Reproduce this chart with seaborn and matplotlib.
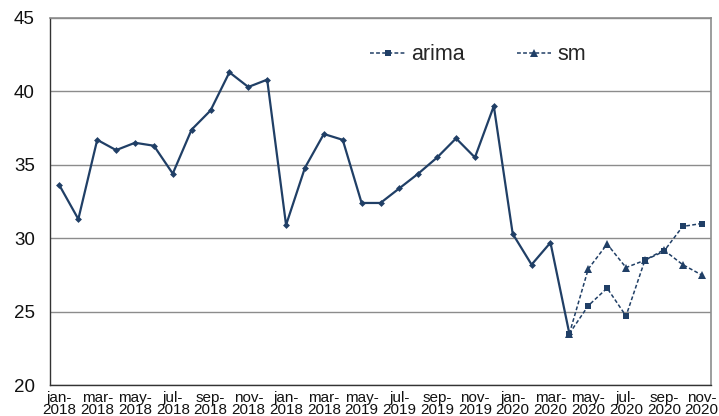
import matplotlib
matplotlib.use("Agg")
import matplotlib.pyplot as plt
import seaborn as sns
import pandas as pd
import numpy as np

# ---- data ----
actual = [33.6, 31.3, 36.7, 36.0, 36.5, 36.3, 34.4, 37.4, 38.7, 41.3, 40.3, 40.8,
          30.9, 34.8, 37.1, 36.7, 32.4, 32.4, 33.4, 34.4, 35.5, 36.8, 35.5, 39.0,
          30.3, 28.2, 29.7, 23.5]
arima = [23.5, 25.4, 26.6, 24.7, 28.5, 29.1, 30.8, 31.0]
sm = [23.5, 27.9, 29.6, 28.0, 28.5, 29.2, 28.2, 27.5]
tick_labels = ["jan-\n2018", "mar-\n2018", "may-\n2018", "jul-\n2018", "sep-\n2018",
               "nov-\n2018", "jan-\n2018", "mar-\n2018", "may-\n2019", "jul-\n2019",
               "sep-\n2019", "nov-\n2019", "jan-\n2020", "mar-\n2020", "may-\n2020",
               "jul-\n2020", "sep-\n2020", "nov-\n2020"]
n_months = 35

sns.set_style("white")
plt.rcParams['font.family'] = ['Liberation Sans', 'DejaVu Sans']

color = "#203F66"

fig = plt.figure(figsize=(7.19, 4.16), dpi=100)
ax = fig.add_axes([50 / 719, 31 / 416, 661 / 719, 367 / 416])

x_act = np.arange(len(actual))
x_fc = np.arange(len(actual) - 1, len(actual) - 1 + len(arima))

df_act = pd.DataFrame({"x": x_act, "y": actual})
df_ar = pd.DataFrame({"x": x_fc, "y": arima})
df_sm = pd.DataFrame({"x": x_fc, "y": sm})

sns.lineplot(data=df_ar, x="x", y="y", ax=ax, color=color, linestyle=(0, (2.5, 1.5)),
             linewidth=1.1, marker="s", markersize=5, markeredgewidth=0, label="arima")
sns.lineplot(data=df_sm, x="x", y="y", ax=ax, color=color, linestyle=(0, (2.5, 1.5)),
             linewidth=1.1, marker="^", markersize=5.5, markeredgewidth=0, label="sm")
sns.lineplot(data=df_act, x="x", y="y", ax=ax, color=color, linewidth=1.6,
             marker="D", markersize=3.5, markeredgewidth=0, label="_actual")

ax.set_xlim(-0.5, n_months - 0.5)
ax.set_ylim(20, 45)
ax.set_yticks([20, 25, 30, 35, 40, 45])
ax.yaxis.grid(True, color="#8c8c8c", linewidth=1.0)
ax.set_axisbelow(True)

ax.set_xticks(np.arange(0, n_months, 2))
ax.set_xticklabels(tick_labels, fontsize=11, linespacing=0.9)
ax.set_xticks(np.arange(-0.5, n_months, 1), minor=True)
ax.tick_params(axis="x", which="major", length=0, pad=4)
ax.tick_params(axis="x", which="minor", length=5, width=0.8, color="#333333", direction="out")
ax.tick_params(axis="y", length=6, width=0.8, color="#333333", direction="out", labelsize=13.5, pad=5)
ax.tick_params(axis="both", labelcolor="#111111")

ax.set_xlabel("")
ax.set_ylabel("")

for side in ["left", "bottom"]:
    ax.spines[side].set_color("#333333")
    ax.spines[side].set_linewidth(1.0)
for side in ["top", "right"]:
    ax.spines[side].set_color("#8c8c8c")
    ax.spines[side].set_linewidth(1.2)

leg = ax.legend(loc="center", bbox_to_anchor=(0.648, 0.90), ncol=2, frameon=False,
                fontsize=15.5, handlelength=1.6, handletextpad=0.3, columnspacing=2.4)

fig.savefig("out.png", dpi=100)
